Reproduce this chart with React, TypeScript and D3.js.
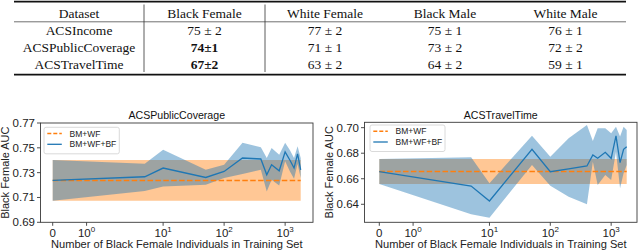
import React from 'react';
import * as d3 from 'd3';

// table
const colNames = ['Dataset', 'Black Female', 'White Female', 'Black Male', 'White Male'];
const rowNames = ['ACSIncome', 'ACSPublicCoverage', 'ACSTravelTime'];
const cellText = [
  ['75 ± 2', '77 ± 2', '75 ± 1', '76 ± 1'],
  ['74±1', '71 ± 1', '73 ± 2', '72 ± 2'],
  ['67±2', '63 ± 2', '64 ± 2', '59 ± 1'],
];
const cellBold = [
  [false, false, false, false],
  [true, false, false, false],
  [true, false, false, false],
];

// number of BF individuals in training set
const nTrain = [0, 5, 10, 50, 100, 200, 400, 500, 600, 800, 1000, 1200, 1400, 1600, 1800];

// ACSPublicCoverage
const pcBase = { mean: 0.7237, lo: 0.7073, hi: 0.7402 };
const pcMean = [0.7237, 0.7267, 0.7337, 0.7261, 0.7310, 0.7418, 0.7410, 0.7283, 0.7364, 0.7315, 0.7467, 0.7400, 0.7337, 0.7451, 0.7323];
const pcLo = [0.7073, 0.7153, 0.7188, 0.7202, 0.7256, 0.7289, 0.7323, 0.7148, 0.7242, 0.7196, 0.7391, 0.7310, 0.7250, 0.7370, 0.7256];
const pcHi = [0.7402, 0.7372, 0.7485, 0.7323, 0.7364, 0.7540, 0.7504, 0.7418, 0.7499, 0.7445, 0.7540, 0.7480, 0.7418, 0.7512, 0.7418];

// ACSTravelTime
const ttBase = { mean: 0.6656, lo: 0.6559, hi: 0.6755 };
const ttMean = [0.6656, 0.6543, 0.6426, 0.6831, 0.6655, 0.6678, 0.6700, 0.6786, 0.6760, 0.6807, 0.6760, 0.6935, 0.6726, 0.6831, 0.6851];
const ttLo = [0.6559, 0.6322, 0.6295, 0.6708, 0.6546, 0.6460, 0.6400, 0.6734, 0.6551, 0.6630, 0.6590, 0.6812, 0.6525, 0.6643, 0.6708];
const ttHi = [0.6755, 0.6768, 0.6564, 0.6937, 0.6773, 0.6917, 0.7021, 0.6896, 0.6995, 0.6995, 0.6956, 0.7008, 0.6930, 0.7008, 0.6982];

const xTickVals = [0, 1, 10, 100, 1000];
const xTickExp = ['', '0', '1', '2', '3'];

const ORANGE = '#ff7f0e';
const BLUE = '#1f77b4';
const SANS = '"Liberation Sans", Arial, sans-serif';
const SERIF = '"Liberation Serif", "Times New Roman", serif';

// matplotlib symlog, linthresh 2, linscale 1
const LIN = 2;
const ADJ = 1 / (1 - 1 / 10);
const symlog = (v) => (v <= LIN ? v * ADJ : LIN * (ADJ + Math.log10(v / LIN)));

const Table = () => {
  const colX = [79, 204.5, 325, 445, 565.5];
  const rowY = [35.3, 52, 68.5];
  return (
    <g fontFamily={SERIF} fontSize={13.5} fill="#111" textAnchor="middle">
      <line x1={14} x2={626} y1={1.6} y2={1.6} stroke="#111" strokeWidth={1.6} />
      <line x1={14} x2={626} y1={21.8} y2={21.8} stroke="#333" strokeWidth={0.7} />
      <line x1={14} x2={626} y1={74.6} y2={74.6} stroke="#111" strokeWidth={1.6} />
      <line x1={144} x2={144} y1={4.5} y2={72} stroke="#333" strokeWidth={0.8} />
      <line x1={265} x2={265} y1={4.5} y2={72} stroke="#333" strokeWidth={0.8} />
      {colNames.map((c, i) => (
        <text key={c} x={colX[i]} y={18}>{c}</text>
      ))}
      {rowNames.map((r, j) => (
        <g key={r}>
          <text x={colX[0]} y={rowY[j]}>{r}</text>
          {cellText[j].map((t, i) => (
            <text key={i} x={colX[i + 1]} y={rowY[j]} fontWeight={cellBold[j][i] ? 'bold' : 'normal'}>{t}</text>
          ))}
        </g>
      ))}
    </g>
  );
};

const Panel = (props) => {
  const { id, title, frame, dataPx, yDomain, yTicks, base, mean, lo, hi, legend, ylabX } = props;
  const { l, t, r, b } = frame;

  const x = d3.scaleLinear().domain([symlog(0), symlog(1800)]).range(dataPx);
  const y = d3.scaleLinear().domain(yDomain).range([b, t]);

  const pts = nTrain.map((n, i) => ({ n, m: mean[i], lo: lo[i], hi: hi[i] }));

  const baseArea = d3.area().x((d) => x(symlog(d.n))).y0(y(base.lo)).y1(y(base.hi))(pts);
  const baseLine = d3.line().x((d) => x(symlog(d.n))).y(y(base.mean))(pts);
  const band = d3.area().x((d) => x(symlog(d.n))).y0((d) => y(d.lo)).y1((d) => y(d.hi))(pts);
  const line = d3.line().x((d) => x(symlog(d.n))).y((d) => y(d.m))(pts);

  const spine = '#3a3a3a';
  const midX = (l + r) / 2;

  return (
    <g fontFamily={SANS}>
      <defs>
        <clipPath id={id}>
          <rect x={l} y={t} width={r - l} height={b - t} />
        </clipPath>
      </defs>
      <g clipPath={`url(#${id})`}>
        <path d={baseArea} fill={ORANGE} fillOpacity={0.44} />
        <path d={band} fill={BLUE} fillOpacity={0.44} />
        <path d={baseLine} fill="none" stroke={ORANGE} strokeWidth={1.5} strokeDasharray="5.5,2.4" />
        <path d={line} fill="none" stroke={BLUE} strokeWidth={1.3} />
      </g>
      <rect x={l} y={t} width={r - l} height={b - t} fill="none" stroke={spine} strokeWidth={0.9} />

      {/* y axis */}
      {yTicks.map((v) => (
        <g key={v}>
          <line x1={l - 3.5} x2={l} y1={y(v)} y2={y(v)} stroke={spine} strokeWidth={0.9} />
          <text x={l - 5.5} y={y(v) + 4} textAnchor="end" fontSize={11.5} fill="#222">{v.toFixed(2)}</text>
        </g>
      ))}
      <text transform={`translate(${ylabX}, ${(t + b) / 2}) rotate(-90)`} textAnchor="middle" fontSize={11} fill="#222">Black Female AUC</text>

      {/* x axis */}
      {xTickVals.map((v, i) => {
        const px = x(symlog(v));
        return (
          <g key={v}>
            <line x1={px} x2={px} y1={b} y2={b + 3.5} stroke={spine} strokeWidth={0.9} />
            {i === 0 ? (
              <text x={px} y={236.8} textAnchor="middle" fontSize={11.5} fill="#222">0</text>
            ) : (
              <text x={px} y={236.8} textAnchor="middle" fontSize={11.5} fill="#222">
                10<tspan dy={-5} fontSize={8}>{xTickExp[i]}</tspan>
              </text>
            )}
          </g>
        );
      })}
      <text x={midX} y={248.3} textAnchor="middle" fontSize={11.1} fill="#222">Number of Black Female Individuals in Training Set</text>

      <text x={midX} y={118.5} textAnchor="middle" fontSize={10.6} fill="#111">{title}</text>

      {/* legend */}
      <g transform={`translate(${legend.x}, ${legend.y})`}>
        <rect x={0} y={0} width={legend.w} height={26.5} rx={2} fill="#fff" fillOpacity={0.8} stroke="#d0d0d0" strokeWidth={0.8} />
        <line x1={3.3} x2={17.8} y1={6.3} y2={6.3} stroke={ORANGE} strokeWidth={1.5} strokeDasharray="4,2" />
        <line x1={3.3} x2={17.8} y1={17} y2={17} stroke={BLUE} strokeWidth={1.3} />
        <text x={25.5} y={9.3} fontSize={8.5} fill="#222">BM+WF</text>
        <text x={25.5} y={20} fontSize={8.5} fill="#222">BM+WF+BF</text>
      </g>
    </g>
  );
};

export default function App() {
  return (
    <svg width={640} height={250} style={{ position: 'absolute', left: 0, top: 0, background: '#fff' }}>
      <Table />
      <Panel
        id="clipPc"
        title="ACSPublicCoverage"
        frame={{ l: 40.5, t: 123, r: 313, b: 222.3 }}
        dataPx={[52.7, 300.7]}
        yDomain={[0.69, 0.77]}
        yTicks={[0.69, 0.71, 0.73, 0.75, 0.77]}
        base={pcBase}
        mean={pcMean}
        lo={pcLo}
        hi={pcHi}
        legend={{ x: 44, y: 127.3, w: 75.3 }}
        ylabX={8.5}
      />
      <Panel
        id="clipTt"
        title="ACSTravelTime"
        frame={{ l: 364.5, t: 122.3, r: 637, b: 222.3 }}
        dataPx={[379.3, 626.7]}
        yDomain={[0.6259, 0.7042]}
        yTicks={[0.64, 0.66, 0.68, 0.70]}
        base={ttBase}
        mean={ttMean}
        lo={ttLo}
        hi={ttHi}
        legend={{ x: 370, y: 125, w: 75 }}
        ylabX={332.5}
      />
    </svg>
  );
}
